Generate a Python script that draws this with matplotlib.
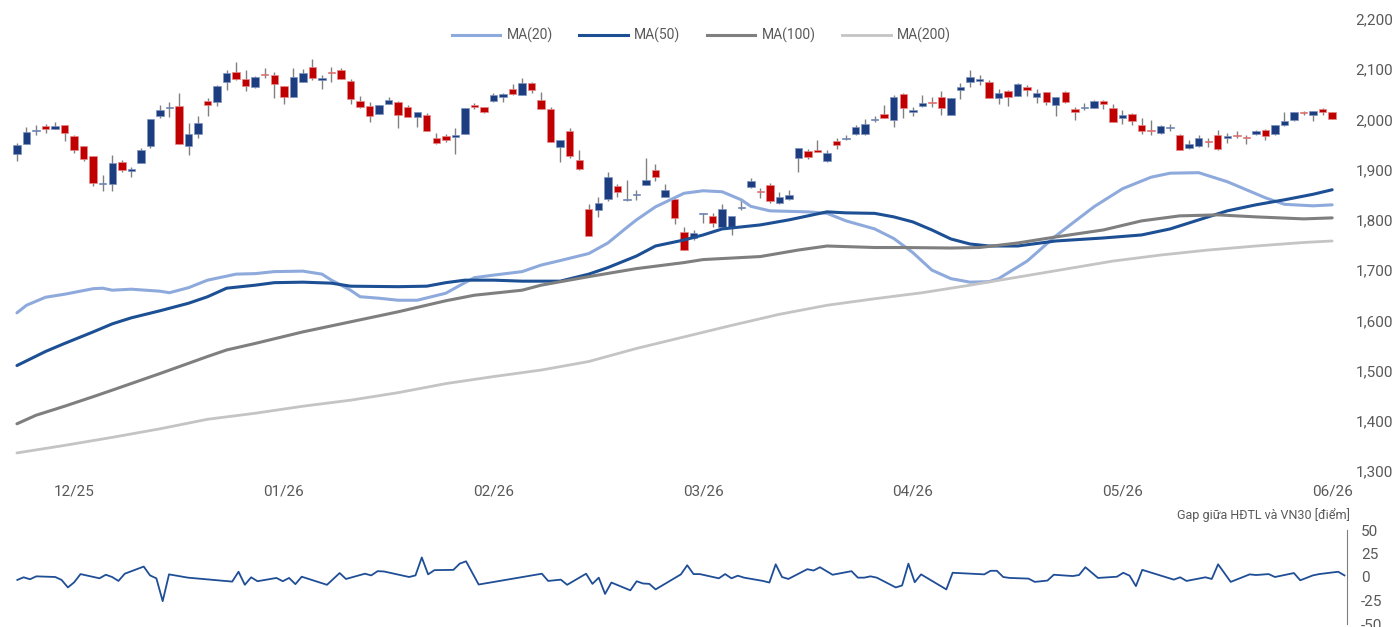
import matplotlib
matplotlib.use("Agg")
import matplotlib.pyplot as plt
from matplotlib.lines import Line2D

plt.rcParams['font.family'] = ['Roboto', 'DejaVu Sans']
plt.rcParams['axes.unicode_minus'] = False

# --- du lieu nen (OHLC) theo phien giao dich ---
opens = [1931, 1951, 1977, 1987, 1981, 1989, 1968, 1948, 1928, 1871,
         1872, 1916, 1898, 1914, 1948, 2006, 2023, 2026, 1948, 1972,
         2037, 2035, 2074, 2094, 2080, 2065, 2090, 2088, 2067, 2044,
         2075, 2104, 2078, 2094, 2098, 2076, 2037, 2027, 2010, 2030,
         2034, 2024, 2004, 2009, 1964, 1967, 1965, 1971, 2029, 2025,
         2037, 2045, 2060, 2049, 2072, 2038, 2021, 1946, 1977, 1919,
         1821, 1820, 1842, 1868, 1839, 1849, 1870, 1899, 1846, 1842,
         1775, 1763, 1812, 1808, 1785, 1785, 1823, 1866, 1857, 1869,
         1833, 1842, 1924, 1937, 1939, 1917, 1958, 1962, 1972, 1971,
         1999, 2010, 1998, 2050, 2015, 2027, 2035, 2044, 2008, 2059,
         2075, 2077, 2075, 2043, 2057, 2047, 2065, 2044, 2054, 2029,
         2055, 2020, 2024, 2023, 2037, 2023, 2002, 2011, 1989, 1979,
         1973, 1984, 1970, 1944, 1948, 1958, 1970, 1964, 1970, 1965,
         1971, 1979, 1971, 1989, 1999, 2014, 2009, 2020, 2014]
highs = [1954, 1985, 1989, 1991, 1995, 1989, 1970, 1948, 1928, 1889,
         1929, 1920, 1906, 1944, 2000, 2028, 2035, 2052, 1992, 2007,
         2042, 2069, 2098, 2115, 2098, 2086, 2102, 2095, 2067, 2103,
         2100, 2120, 2088, 2105, 2103, 2080, 2046, 2035, 2029, 2045,
         2037, 2029, 2014, 2012, 1974, 1972, 1983, 2022, 2033, 2025,
         2053, 2053, 2071, 2082, 2075, 2055, 2024, 1959, 1982, 1939,
         1831, 1846, 1896, 1871, 1879, 1860, 1923, 1911, 1871, 1842,
         1785, 1780, 1814, 1813, 1832, 1808, 1840, 1883, 1863, 1874,
         1856, 1859, 1944, 1941, 1959, 1939, 1964, 1969, 1989, 2001,
         2006, 2029, 2049, 2053, 2025, 2049, 2044, 2057, 2043, 2072,
         2098, 2089, 2078, 2060, 2059, 2072, 2068, 2060, 2054, 2044,
         2056, 2024, 2032, 2039, 2039, 2031, 2019, 2012, 2002, 1999,
         1989, 1991, 1972, 1959, 1969, 1964, 1979, 1974, 1976, 1969,
         1979, 1980, 1989, 2015, 2014, 2017, 2016, 2022, 2015]
lows = [1918, 1951, 1969, 1973, 1981, 1957, 1934, 1918, 1868, 1858,
        1858, 1896, 1886, 1913, 1944, 2002, 2005, 1952, 1929, 1963,
        2007, 2027, 2059, 2078, 2057, 2062, 2082, 2043, 2030, 2044,
        2075, 2078, 2060, 2074, 2080, 2031, 2022, 1994, 2010, 2030,
        1982, 2004, 1985, 1976, 1952, 1956, 1932, 1971, 2020, 2012,
        2035, 2035, 2049, 2049, 2053, 2020, 1956, 1915, 1923, 1899,
        1768, 1805, 1838, 1846, 1838, 1839, 1870, 1878, 1846, 1792,
        1740, 1760, 1793, 1786, 1785, 1770, 1820, 1863, 1843, 1833,
        1832, 1840, 1896, 1922, 1936, 1916, 1942, 1959, 1969, 1969,
        1994, 2002, 1984, 2002, 2006, 2024, 2024, 2009, 2008, 2040,
        2065, 2069, 2043, 2031, 2027, 2047, 2047, 2033, 2029, 2006,
        2032, 1998, 2019, 2022, 2020, 1994, 1991, 1989, 1972, 1969,
        1971, 1976, 1940, 1942, 1946, 1946, 1939, 1954, 1964, 1952,
        1969, 1960, 1969, 1987, 1997, 2009, 1996, 2009, 2000]
closes = [1950, 1975, 1979, 1981, 1987, 1973, 1939, 1922, 1873, 1872,
          1914, 1900, 1901, 1939, 2000, 2018, 2025, 1952, 1971, 1992,
          2028, 2066, 2092, 2080, 2066, 2084, 2089, 2071, 2044, 2085,
          2093, 2082, 2082, 2092, 2080, 2041, 2025, 2007, 2029, 2038,
          2009, 2004, 2014, 1976, 1954, 1959, 1969, 2022, 2025, 2015,
          2048, 2051, 2051, 2072, 2059, 2020, 1956, 1959, 1927, 1901,
          1768, 1834, 1885, 1855, 1841, 1851, 1879, 1885, 1859, 1803,
          1740, 1774, 1814, 1794, 1821, 1808, 1825, 1877, 1855, 1838,
          1846, 1849, 1944, 1925, 1936, 1934, 1950, 1964, 1984, 1991,
          2001, 2002, 2045, 2023, 2019, 2032, 2033, 2022, 2043, 2065,
          2084, 2080, 2043, 2053, 2045, 2070, 2059, 2052, 2035, 2044,
          2035, 2014, 2025, 2037, 2030, 1994, 2009, 1996, 1977, 1977,
          1986, 1984, 1940, 1952, 1964, 1956, 1941, 1968, 1968, 1964,
          1976, 1968, 1989, 1996, 2014, 2012, 2016, 2015, 2001]

# --- duong trung binh (doc tai cac phien) ---
ma20_idx = [0, 1, 3, 5, 8, 9, 10, 12, 15, 16, 18, 20, 23, 25, 27, 30, 32, 33,
            35, 36, 38, 40, 42, 45, 47, 48, 50, 53, 55, 57, 60, 62, 64, 65,
            67, 70, 72, 74, 76, 77, 79, 83, 85, 87, 90, 92, 94, 96, 98, 100,
            102, 103, 106, 109, 113, 116, 119, 121, 124, 127, 129, 131, 133,
            136, 138]
ma20 = [1615, 1630, 1646, 1652, 1663, 1664, 1660, 1662, 1658, 1655, 1665,
        1680, 1692, 1693, 1697, 1698, 1692, 1680, 1660, 1647, 1644, 1640,
        1640, 1654, 1675, 1685, 1690, 1697, 1710, 1719, 1733, 1754, 1785,
        1800, 1826, 1853, 1858, 1856, 1840, 1827, 1818, 1816, 1813, 1798,
        1782, 1763, 1735, 1700, 1683, 1676, 1677, 1683, 1718, 1768, 1826,
        1862, 1885, 1893, 1894, 1876, 1860, 1844, 1831, 1828, 1830]
ma50_idx = [0, 3, 5, 8, 10, 12, 15, 18, 20, 22, 25, 27, 30, 33, 35, 40, 43,
            45, 47, 50, 53, 57, 60, 62, 65, 67, 70, 72, 74, 78, 81, 85, 87,
            90, 92, 94, 96, 98, 100, 102, 105, 109, 114, 118, 121, 124, 127,
            130, 133, 136, 138]
ma50 = [1510, 1538, 1554, 1577, 1593, 1605, 1619, 1634, 1647, 1664, 1670,
        1675, 1676, 1674, 1668, 1667, 1668, 1675, 1680, 1680, 1678, 1678,
        1692, 1705, 1728, 1748, 1760, 1770, 1782, 1790, 1800, 1816, 1814,
        1813, 1806, 1796, 1780, 1762, 1752, 1748, 1748, 1758, 1764, 1770,
        1782, 1800, 1818, 1830, 1840, 1851, 1860]
ma100_idx = [0, 2, 5, 8, 10, 15, 20, 22, 25, 30, 35, 40, 45, 48, 50, 53, 55,
             60, 65, 70, 72, 78, 82, 85, 90, 93, 98, 101, 105, 109, 114, 118,
             122, 126, 130, 135, 138]
ma100 = [1394, 1411, 1429, 1448, 1461, 1494, 1528, 1541, 1554, 1577, 1597,
         1617, 1639, 1650, 1654, 1660, 1670, 1687, 1703, 1715, 1721, 1727,
         1740, 1748, 1745, 1745, 1744, 1745, 1754, 1766, 1780, 1798, 1808,
         1810, 1806, 1802, 1804]
ma200_idx = [0, 5, 10, 15, 20, 25, 30, 35, 40, 45, 50, 55, 60, 65, 70, 75,
             80, 85, 90, 95, 100, 105, 110, 115, 120, 125, 130, 135, 138]
ma200 = [1336, 1351, 1367, 1384, 1403, 1415, 1429, 1441, 1456, 1474, 1488,
         1501, 1518, 1544, 1567, 1590, 1612, 1630, 1643, 1655, 1670, 1686,
         1702, 1718, 1730, 1740, 1748, 1755, 1758]

tick_idx = [6, 28, 50, 72, 94, 116, 138]
tick_labels = ['12/25', '01/26', '02/26', '03/26', '04/26', '05/26', '06/26']
y_ticks = [1300, 1400, 1500, 1600, 1700, 1800, 1900, 2000, 2100, 2200]

# --- gap giua HDTL va VN30 (ngay lich tinh tu phien dau) ---
gap_day = [0, 1, 2, 3, 6, 7, 8, 9, 10, 13, 14, 15, 16, 17, 20, 21, 22, 23, 24,
           27, 34, 35, 36, 37, 38, 41, 42, 43, 44, 45, 49, 51, 52, 55, 56, 57,
           58, 62, 63, 64, 65, 66, 69, 70, 71, 73, 83, 84, 86, 87, 90, 91, 92,
           93, 94, 97, 98, 99, 100, 101, 105, 106, 107, 108, 111, 112, 113,
           114, 115, 118, 119, 120, 121, 122, 125, 126, 127, 129, 132, 133,
           134, 135, 136, 139, 140, 141, 142, 143, 147, 148, 153, 154, 155,
           156, 157, 160, 161, 163, 164, 167, 168, 169, 171, 174, 175, 176,
           177, 178, 183, 184, 185, 188, 189, 190, 192, 195, 196, 198, 199,
           202, 203, 205, 206, 209, 210]
gap_val = [-3.1, -0.3, -2.4, 0.7, 0.0, -3.1, -11.1, -5.6, 3.1, -1.4, 2.4, 0.0,
           -4.2, 3.5, 11.1, 1.7, -1.4, -25.7, 2.8, -0.7, -4.9, 5.6, -8.3, -0.3,
           -4.5, -1.0, -4.5, -1.0, -7.6, 0.3, -8.3, 4.2, -2.1, 3.5, 1.7, 6.2,
           5.9, 0.0, 1.7, 20.8, 2.8, 7.3, 7.6, 14.2, 16.7, -8.0, 3.5, -4.2,
           -2.8, -8.3, 3.5, -7.3, -0.7, -18.0, -5.9, -14.2, -4.5, -6.9, -7.3,
           -13.2, 2.8, 12.5, 3.1, 3.1, -1.4, 3.1, -1.4, 1.4, -0.7, -4.2, -5.9,
           13.5, 0.0, -2.1, 8.3, 6.9, 10.4, 2.4, 6.2, -0.7, -0.7, 0.7, -0.7,
           -11.1, -9.0, 14.2, -5.6, 2.8, -13.2, 4.5, 2.8, 6.6, 6.6, 0.0, -1.0,
           -1.7, -5.2, -3.8, 2.4, 1.0, 2.1, 10.4, -1.0, 0.3, 4.5, 1.4, -9.7,
           7.6, -2.8, -0.3, -4.2, -0.3, -2.1, 13.5, -5.2, 2.8, 2.1, 3.1, 0.0,
           4.2, -3.5, 1.7, 3.1, 5.6, 1.7]

TXT = '#595959'
UP, DOWN = '#1c3d80', '#c00000'

fig = plt.figure(figsize=(14, 6.27), dpi=100)
ax = fig.add_axes([10/1400, 1 - 471/627, 1337/1400, 452/627])
ax2 = fig.add_axes([10/1400, 1 - 624/627, 1337/1400, 94/627])

# nen
x = list(range(len(opens)))
bottoms, heights, cols, edges = [], [], [], []
for o, c in zip(opens, closes):
    lo, hi = min(o, c), max(o, c)
    h = max(hi - lo, 2)
    bottoms.append(lo if hi - lo >= 2 else (lo + hi) / 2 - 1)
    heights.append(h)
    cols.append(UP if c >= o else DOWN)
    edges.append('#7f95c0' if c >= o else '#e88a8a')
ax.vlines(x, lows, highs, color='#808080', lw=1.0, zorder=1)
ax.bar(x, heights, bottom=bottoms, width=0.78, color=cols,
       edgecolor=edges, linewidth=0.5, zorder=2)

# MA
ma_styles = [('MA(20)', ma20_idx, ma20, '#8eaadc', 2.2),
             ('MA(50)', ma50_idx, ma50, '#1c4f94', 2.2),
             ('MA(100)', ma100_idx, ma100, '#7f7f7f', 2.2),
             ('MA(200)', ma200_idx, ma200, '#c4c4c4', 2.0)]
handles = []
for name, xi, vals, col, lw in ma_styles:
    ax.plot(xi, vals, color=col, lw=lw, zorder=3,
            solid_capstyle='round', solid_joinstyle='round')
    handles.append(Line2D([], [], color=col, lw=lw, label=name))

ax.set_xlim(-0.73, 139.56)
ax.set_ylim(1300, 2200)
ax.set_xticks(tick_idx)
ax.set_xticklabels(tick_labels)
ax.set_yticks(y_ticks)
ax.set_yticklabels([f'{v:,}' for v in y_ticks])
ax.yaxis.tick_right()
ax.tick_params(axis='both', length=0, labelsize=11, labelcolor=TXT)
ax.tick_params(axis='y', pad=6)
ax.tick_params(axis='x', pad=10)
for s in ax.spines.values():
    s.set_visible(False)

fig.legend(handles=handles, loc='center', bbox_to_anchor=(0.501, 0.944),
           ncol=4, frameon=False, fontsize=10, handlelength=3.5,
           columnspacing=1.9, handletextpad=0.45, labelcolor=TXT)

# gap
ax2.plot(gap_day, gap_val, color='#1f4e96', lw=1.3)
ax2.set_xlim(-1.16, 210.4)
ax2.set_ylim(-50, 50)
ax2.set_xticks([])
ax2.set_yticks([-50, -25, 0, 25, 50])
ax2.yaxis.tick_right()
ax2.tick_params(axis='y', length=0, labelsize=11, labelcolor=TXT, pad=10)
for k in ['left', 'top', 'bottom']:
    ax2.spines[k].set_visible(False)
ax2.spines['right'].set_color('#7f7f7f')
ax2.spines['right'].set_linewidth(0.8)
ax2.patch.set_alpha(0)

fig.text(1350/1400, 1 - 515/627, 'Gap giữa HĐTL và VN30 [điểm]',
         ha='right', va='center', fontsize=9, color=TXT)

fig.savefig('out.png', dpi=100, facecolor='white')
